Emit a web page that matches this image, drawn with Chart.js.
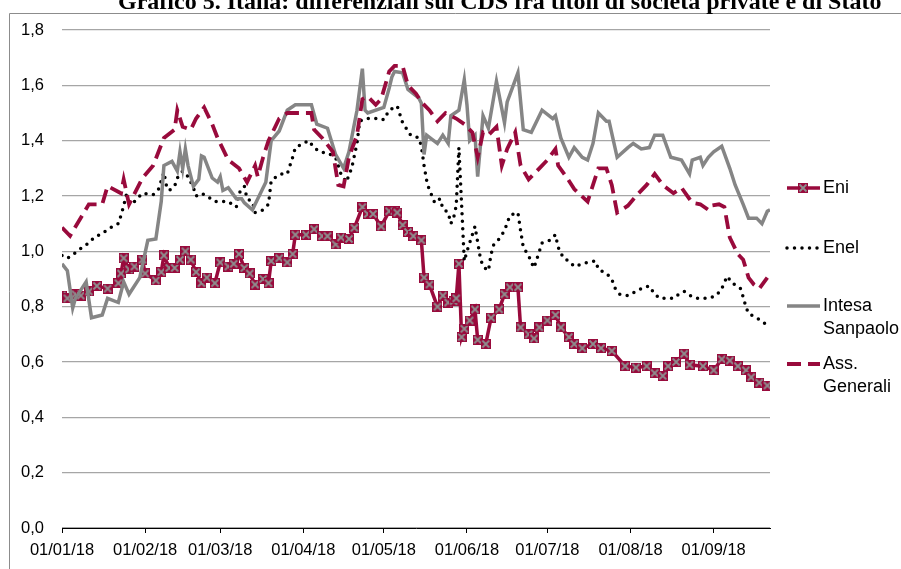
<!DOCTYPE html>
<html lang="it">
<head>
<meta charset="UTF-8">
<title>Grafico 5 - differenziali CDS</title>
<script src="https://cdn.jsdelivr.net/npm/chart.js"></script>
<style>
  html, body { margin: 0; padding: 0; background: #fff; overflow: hidden; }
  #wrap { position: relative; width: 901px; height: 569px; }
</style>
</head>
<body>
<div id="wrap"><canvas id="cds" width="901" height="569"></canvas></div>
<script>
// asse x: giorni dal 01/01/18
const monthStarts = [0, 31, 59, 90, 120, 151, 181, 212, 243];
const monthLabels = ["01/01/18", "01/02/18", "01/03/18", "01/04/18", "01/05/18",
                     "01/06/18", "01/07/18", "01/08/18", "01/09/18"];
const seriesNames = ["Eni", "Enel", "Intesa Sanpaolo", "Ass. Generali"];
const chartTitle = "Grafico 5. Italia: differenziali sui CDS fra titoli di società private e di Stato";

// [giorno, valore]
const eni = [[0,0.84],[2,0.83],[5,0.845],[7,0.84],[10,0.855],[13,0.875],[17,0.865],[21,0.885],
  [22,0.92],[23,0.975],[25,0.935],[27,0.945],[30,0.97],[31,0.92],[35,0.895],[37,0.925],
  [38,0.985],[40,0.94],[42,0.94],[44,0.97],[46,1.0],[48,0.97],[50,0.925],[52,0.885],
  [54,0.905],[57,0.885],[59,0.96],[62,0.945],[64,0.955],[66,0.99],[68,0.94],[70,0.92],
  [72,0.88],[75,0.9],[77,0.885],[78,0.965],[81,0.975],[84,0.96],[86,0.99],[87,1.06],
  [91,1.06],[94,1.08],[97,1.055],[99,1.055],[102,1.025],[104,1.05],[107,1.045],[109,1.085],
  [112,1.16],[114,1.135],[116,1.135],[119,1.09],[122,1.145],[124,1.145],[125,1.14],[127,1.095],
  [129,1.07],[131,1.055],[134,1.04],[135,0.905],[137,0.88],[140,0.80],[142,0.84],[144,0.815],
  [146,0.82],[147,0.83],[148,0.955],[149,0.69],[150,0.72],[152,0.75],[154,0.79],[155,0.68],
  [158,0.665],[160,0.76],[163,0.79],[165,0.845],[167,0.87],[170,0.87],[171,0.725],[174,0.70],
  [176,0.685],[178,0.725],[181,0.75],[184,0.77],[186,0.725],[189,0.69],[191,0.665],[194,0.65],
  [198,0.665],[201,0.65],[205,0.64],[210,0.585],[214,0.58],[218,0.585],[221,0.56],[224,0.55],
  [226,0.585],[229,0.60],[232,0.63],[234,0.59],[239,0.585],[243,0.57],[246,0.61],[249,0.605],
  [252,0.585],[255,0.57],[257,0.545],[260,0.525],[263,0.515]];

const enel = [[0,0.985],[2,0.975],[5,0.995],[7,1.01],[10,1.03],[12,1.05],[15,1.065],[18,1.085],
  [21,1.10],[22,1.13],[23,1.165],[24,1.205],[25,1.175],[27,1.18],[30,1.21],[34,1.205],
  [36,1.225],[37,1.255],[38,1.285],[39,1.235],[40,1.22],[42,1.235],[43,1.265],[45,1.29],
  [47,1.27],[49,1.23],[50,1.20],[52,1.21],[54,1.20],[57,1.18],[62,1.18],[65,1.16],
  [66,1.21],[68,1.235],[69,1.19],[71,1.18],[72,1.14],[75,1.15],[77,1.17],[78,1.255],
  [80,1.27],[82,1.28],[84,1.28],[86,1.34],[87,1.375],[90,1.39],[92,1.40],[94,1.375],
  [96,1.36],[99,1.355],[102,1.34],[104,1.28],[106,1.25],[108,1.30],[110,1.39],[111,1.47],
  [113,1.48],[119,1.48],[120,1.475],[122,1.51],[125,1.525],[127,1.465],[129,1.435],[130,1.42],
  [133,1.41],[134,1.38],[135,1.31],[136,1.255],[137,1.22],[138,1.20],[139,1.175],[141,1.19],
  [142,1.155],[144,1.14],[145,1.10],[146,1.12],[147,1.165],[148,1.375],[150,0.965],[151,1.00],
  [152,1.03],[154,1.09],[156,0.975],[157,0.945],[159,0.93],[160,0.99],[161,1.025],[163,1.045],
  [165,1.075],[167,1.13],[170,1.14],[171,1.075],[172,1.015],[174,0.985],[175,0.96],[176,0.94],
  [178,1.00],[179,1.03],[182,1.04],[184,1.06],[185,1.015],[187,0.975],[189,0.965],[191,0.945],
  [194,0.955],[196,0.96],[199,0.965],[200,0.935],[203,0.92],[205,0.90],[206,0.87],[208,0.845],
  [211,0.84],[214,0.855],[217,0.87],[219,0.875],[221,0.845],[223,0.83],[228,0.83],[230,0.845],
  [232,0.855],[235,0.835],[237,0.83],[241,0.83],[244,0.84],[246,0.865],[248,0.91],[250,0.885],
  [253,0.865],[254,0.835],[255,0.80],[256,0.775],[259,0.76],[262,0.74]];

const intesa = [[0,0.955],[2,0.93],[4,0.795],[5,0.83],[9,0.89],[11,0.76],[15,0.77],[17,0.83],
  [21,0.815],[23,0.89],[25,0.845],[29,0.905],[32,1.04],[35,1.045],[37,1.18],[38,1.31],
  [41,1.325],[43,1.29],[44,1.36],[45,1.30],[46,1.37],[47,1.31],[49,1.235],[51,1.26],
  [52,1.345],[53,1.34],[56,1.265],[58,1.25],[59,1.27],[60,1.22],[62,1.23],[65,1.19],
  [67,1.19],[68,1.175],[71,1.15],[73,1.19],[76,1.25],[78,1.40],[81,1.435],[84,1.51],
  [87,1.53],[93,1.53],[95,1.46],[99,1.445],[102,1.35],[105,1.30],[107,1.36],[110,1.51],
  [112,1.66],[113,1.51],[114,1.50],[120,1.52],[122,1.59],[123,1.63],[124,1.65],[127,1.645],
  [129,1.585],[133,1.555],[134,1.535],[135,1.35],[136,1.42],[138,1.405],[140,1.39],[142,1.42],
  [144,1.39],[145,1.49],[148,1.51],[150,1.62],[151,1.53],[152,1.40],[154,1.42],[155,1.27],
  [157,1.49],[159,1.445],[162,1.615],[165,1.465],[166,1.54],[170,1.645],[172,1.44],[175,1.43],
  [179,1.51],[183,1.48],[184,1.49],[186,1.41],[189,1.34],[191,1.375],[194,1.34],[196,1.33],
  [198,1.39],[200,1.50],[203,1.47],[204,1.47],[207,1.34],[211,1.375],[213,1.39],[216,1.37],
  [219,1.375],[221,1.42],[224,1.42],[227,1.34],[231,1.33],[234,1.28],[235,1.33],[238,1.34],
  [239,1.31],[241,1.34],[243,1.36],[246,1.38],[249,1.30],[251,1.24],[254,1.17],[256,1.12],
  [259,1.12],[261,1.10],[263,1.145],[264,1.15]];

const generali = [[0,1.086],[3,1.056],[10,1.17],[15,1.17],[17,1.236],[22,1.21],[23,1.26],[25,1.17],
  [30,1.265],[34,1.31],[38,1.41],[42,1.44],[43,1.51],[45,1.45],[48,1.44],[50,1.48],
  [53,1.52],[56,1.46],[58,1.41],[62,1.33],[66,1.30],[69,1.25],[72,1.31],[73,1.27],
  [75,1.34],[77,1.40],[81,1.48],[84,1.50],[93,1.50],[94,1.44],[97,1.41],[101,1.36],
  [102,1.30],[103,1.24],[105,1.235],[107,1.34],[110,1.42],[112,1.55],[114,1.56],[117,1.53],
  [119,1.55],[122,1.65],[124,1.67],[127,1.67],[129,1.60],[132,1.57],[134,1.54],[137,1.51],
  [140,1.47],[143,1.50],[147,1.48],[150,1.46],[153,1.43],[155,1.34],[157,1.43],[159,1.42],
  [162,1.45],[164,1.31],[166,1.37],[169,1.43],[171,1.31],[174,1.26],[178,1.30],[181,1.33],
  [184,1.37],[185,1.31],[188,1.27],[191,1.225],[196,1.18],[199,1.27],[200,1.30],[203,1.30],
  [205,1.24],[207,1.14],[211,1.165],[215,1.21],[218,1.24],[221,1.28],[224,1.24],[228,1.21],
  [231,1.23],[235,1.175],[238,1.17],[241,1.15],[242,1.165],[245,1.17],[247,1.16],[249,1.05],
  [252,0.99],[254,0.97],[256,0.905],[258,0.88],[260,0.865],[263,0.905]];

const burgundy = "#990a3c";
const grey = "#858585";

function toXY(rows) {
    return rows.map(r => ({ x: r[0], y: r[1] }));
}

function makeMarker() {
    const c = document.createElement("canvas");
    c.width = 10; c.height = 10;
    const g = c.getContext("2d");
    g.fillStyle = burgundy;
    g.fillRect(0, 0, 10, 10);
    g.strokeStyle = "#8e8e8e";
    g.lineWidth = 1.8;
    g.beginPath();
    g.moveTo(1.5, 1.5); g.lineTo(8.5, 8.5);
    g.moveTo(8.5, 1.5); g.lineTo(1.5, 8.5);
    g.stroke();
    return c;
}
const eniMarker = makeMarker();

// cornice + titolo (tagliato in alto come nell'originale) + legenda a destra
const decorPlugin = {
    id: "decor",
    beforeDraw(chart) {
        const ctx = chart.ctx;
        ctx.save();
        ctx.strokeStyle = "#8c8c8c";
        ctx.lineWidth = 1;
        ctx.beginPath();
        ctx.moveTo(9.5, 569);
        ctx.lineTo(9.5, 13.5);
        ctx.lineTo(901, 13.5);
        ctx.stroke();
        ctx.restore();
    },
    afterDraw(chart) {
        const ctx = chart.ctx;
        ctx.save();
        ctx.fillStyle = "#000";
        ctx.font = 'bold 24px "Liberation Serif"';
        ctx.textBaseline = "alphabetic";
        ctx.fillText(chartTitle, 118, 9);

        const rows = [188, 248, 306, 364];
        chart.data.datasets.forEach((ds, i) => {
            const y = rows[i];
            ctx.save();
            ctx.strokeStyle = ds.borderColor;
            ctx.lineWidth = ds.borderWidth;
            ctx.setLineDash(ds.borderDash || []);
            ctx.lineCap = ds.borderCapStyle || "butt";
            ctx.beginPath();
            ctx.moveTo(787, y);
            ctx.lineTo(820, y);
            ctx.stroke();
            ctx.restore();
            if (ds.pointStyle instanceof HTMLCanvasElement) {
                ctx.drawImage(ds.pointStyle, 798, y - 5);
            }
            ctx.fillStyle = "#000";
            ctx.font = '18px "Liberation Sans"';
            ctx.textBaseline = "middle";
            const words = seriesNames[i].split(" ");
            words.forEach((w, k) => ctx.fillText(w, 823, y + k * 23.5));
        });
        ctx.restore();
    }
};

const tickFont = { family: '"Liberation Sans", Arial, sans-serif', size: 16.5 };

new Chart(document.getElementById("cds"), {
    type: "line",
    data: {
        datasets: [
            {
                label: seriesNames[0],
                data: toXY(eni),
                borderColor: burgundy,
                backgroundColor: burgundy,
                borderWidth: 3.5,
                pointStyle: eniMarker,
                pointRadius: 5,
                order: 3
            },
            {
                label: seriesNames[1],
                data: toXY(enel),
                borderColor: "#000",
                borderWidth: 3.5,
                borderDash: [0, 7.5],
                borderCapStyle: "round",
                pointRadius: 0,
                order: 2
            },
            {
                label: seriesNames[2],
                data: toXY(intesa),
                borderColor: grey,
                borderWidth: 3.5,
                pointRadius: 0,
                order: 1
            },
            {
                label: seriesNames[3],
                data: toXY(generali),
                borderColor: burgundy,
                borderWidth: 3.8,
                borderDash: [14, 7],
                pointRadius: 0,
                order: 0
            }
        ]
    },
    options: {
        responsive: false,
        animation: false,
        devicePixelRatio: 1,
        layout: { padding: { left: 0, right: 131, top: 30, bottom: 0 } },
        plugins: {
            legend: { display: false },
            tooltip: { enabled: false },
            title: { display: false }
        },
        elements: { line: { tension: 0 } },
        scales: {
            x: {
                type: "linear",
                min: 0,
                max: 264,
                afterBuildTicks: s => { s.ticks = monthStarts.map(v => ({ value: v })); },
                afterFit: s => { s.height = 41; },
                grid: { drawOnChartArea: false, drawTicks: true, tickLength: 5, color: "#000", lineWidth: 1 },
                border: { display: true, color: "#000", width: 1 },
                ticks: {
                    autoSkip: false,
                    maxRotation: 0,
                    padding: 8,
                    color: "#000",
                    font: tickFont,
                    callback: v => monthLabels[monthStarts.indexOf(v)]
                }
            },
            y: {
                min: 0,
                max: 1.8,
                afterFit: s => { s.width = 62; },
                grid: { color: "#a6a6a6", lineWidth: 1.3, drawTicks: false },
                border: { display: false },
                ticks: {
                    stepSize: 0.2,
                    padding: 18,
                    color: "#000",
                    font: tickFont,
                    callback: v => v.toFixed(1).replace(".", ",")
                }
            }
        }
    },
    plugins: [decorPlugin]
});
</script>
</body>
</html>
